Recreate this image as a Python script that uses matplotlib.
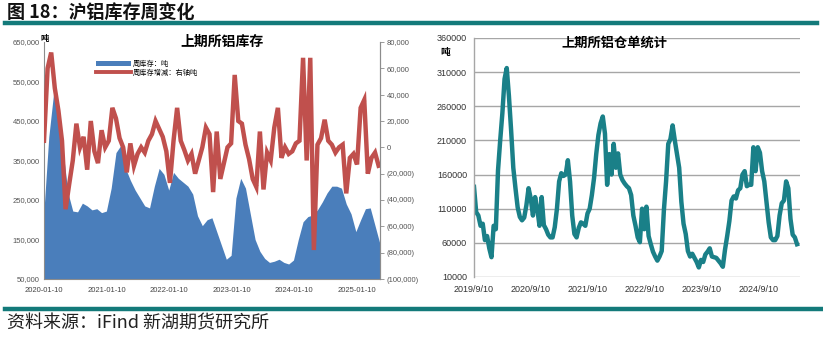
import matplotlib
matplotlib.use('Agg')
import matplotlib.pyplot as plt
import pandas as pd
from matplotlib.patches import Patch
from matplotlib.lines import Line2D

plt.rcParams['font.family'] = ['Noto Sans CJK SC', 'DejaVu Sans']

# ---------------- data ----------------
# SHFE aluminium weekly inventory (tons), sampled every 4 weeks from 2020-01-10
inv_values = [225000, 410000, 520000, 480000, 370000, 268000, 222000, 220000, 242000, 235000,
              225000, 228000, 218000, 222000, 280000, 370000, 388000, 330000, 300000, 275000,
              255000, 235000, 230000, 285000, 330000, 315000, 275000, 320000, 305000, 295000,
              285000, 265000, 210000, 185000, 200000, 205000, 170000, 135000, 100000, 110000,
              255000, 305000, 280000, 215000, 150000, 120000, 102000, 92000, 95000, 100000,
              92000, 88000, 98000, 150000, 195000, 208000, 212000, 225000, 245000, 268000,
              285000, 285000, 280000, 240000, 215000, 170000, 200000, 228000, 230000, 185000,
              140000]
# weekly inventory change (tons, right axis), sampled every 3 weeks from 2020-01-10
chg_values = [5000, 60000, 72000, 45000, 28000, 5000, -47000, -28000, -10000, 18000,
              0, 8000, -17000, 20000, -3000, -12000, 13000, 0, 5000, 30000,
              22000, 7000, 0, -19000, 3000, -14000, -5000, 0, -4000, 5000,
              10000, 20000, 14000, 8000, -3000, -27000, 5000, 30000, 5000, -2000,
              -10000, -5000, -20000, -10000, 0, 15000, 10000, -34000, 12000, -24000,
              -12000, 0, 3000, 55000, 20000, 18000, 2000, -9000, -24000, -30000,
              12000, -32000, -4000, -10000, 15000, 30000, -8000, 0, -5000, -3000,
              3000, 5000, 68000, -10000, 68000, -78000, 2000, 7000, 21000, 5000,
              2000, -4000, 0, 2000, -35000, -8000, -5000, -13000, 30000, 36000,
              -20000, -8000, -4000, -14000]
# SHFE aluminium warrants (tons), sampled every 2 weeks from 2019-09-10
wr_values = [142000, 105000, 100000, 85000, 88000, 64000, 70000, 52000, 39000, 85000,
             80000, 166000, 210000, 250000, 300000, 316000, 275000, 225000, 170000, 140000,
             112000, 98000, 93000, 97000, 115000, 140000, 125000, 100000, 127000, 110000,
             85000, 127000, 86000, 80000, 72000, 68000, 68000, 83000, 110000, 150000,
             162000, 158000, 160000, 181000, 150000, 100000, 73000, 68000, 82000, 90000,
             88000, 85000, 103000, 110000, 130000, 155000, 190000, 218000, 235000, 245000,
             220000, 145000, 190000, 160000, 205000, 170000, 191000, 160000, 152000, 147000,
             143000, 140000, 130000, 100000, 85000, 68000, 61000, 110000, 80000, 113000,
             70000, 58000, 47000, 40000, 34000, 40000, 48000, 108000, 150000, 205000,
             212000, 232000, 210000, 190000, 170000, 120000, 88000, 73000, 48000, 40000,
             44000, 38000, 32000, 24000, 35000, 32000, 43000, 47000, 52000, 40000,
             39000, 38000, 34000, 30000, 25000, 50000, 70000, 92000, 122000, 128000,
             125000, 137000, 140000, 160000, 165000, 143000, 145000, 145000, 200000, 165000,
             200000, 192000, 165000, 150000, 120000, 90000, 68000, 64000, 64000, 70000,
             100000, 118000, 122000, 150000, 140000, 95000, 72000, 68000, 58000]

left_yticks = [50000, 150000, 250000, 350000, 450000, 550000, 650000]
right_yticks = [-100000, -80000, -60000, -40000, -20000, 0, 20000, 40000, 60000, 80000]
left_xticks = ['2020-01-10', '2021-01-10', '2022-01-10', '2023-01-10', '2024-01-10', '2025-01-10']
wr_yticks = [10000, 60000, 110000, 160000, 210000, 260000, 310000, 360000]
wr_xticks = ['2019-09-10', '2020-09-10', '2021-09-10', '2022-09-10', '2023-09-10', '2024-09-10']

inv_dates = pd.date_range('2020-01-10', periods=len(inv_values), freq='28D')
chg_dates = pd.date_range('2020-01-10', periods=len(chg_values), freq='21D')
wr_dates = pd.date_range('2019-09-10', periods=len(wr_values), freq='14D')

BLUE = '#4a7ebb'
RED = '#c0504d'
TEAL = '#1a8088'
BAR = '#137a7a'
NUM = ['Liberation Sans', 'DejaVu Sans']

W, H = 823, 338
fig = plt.figure(figsize=(W / 100, H / 100), dpi=100)

def fx(px):
    return px / W

def fy(py):
    return 1 - py / H

# header
fig.text(fx(7), fy(12), '图 18：沪铝库存周变化', fontsize=13, fontweight='bold',
         va='center', ha='left', color='#111111')
fig.add_artist(Line2D([fx(5), fx(817)], [fy(22.5), fy(22.5)], color=BAR, lw=3.2))
fig.add_artist(Line2D([fx(5), fx(823)], [fy(309), fy(309)], color=BAR, lw=3.2))
fig.text(fx(7), fy(323), '资料来源：iFind 新湖期货研究所', fontsize=13,
         va='center', ha='left', color='#222222')

# ---------------- left chart ----------------
ax = fig.add_axes([fx(44), fy(279), fx(380) - fx(44), fy(42) - fy(279)])
ax.fill_between(inv_dates, inv_values, 50000, color=BLUE, lw=0)
ax.set_ylim(50000, 650000)
ax.set_xlim(pd.Timestamp('2020-01-10'), pd.Timestamp('2025-05-24'))
ax.set_yticks(left_yticks)
ax.set_yticklabels([f'{v:,}' for v in left_yticks], fontsize=5.5, color='#555555', family=NUM)
ax.set_xticks(pd.to_datetime(left_xticks))
ax.set_xticklabels(left_xticks, fontsize=5.5, color='#444444', family=NUM)
ax.tick_params(axis='x', length=0, pad=6)
ax.tick_params(axis='y', length=0, pad=3)
ax.spines['top'].set_visible(False)
for s in ['left', 'bottom', 'right']:
    ax.spines[s].set_color('#8c8c8c')
    ax.spines[s].set_linewidth(0.8)

ax2 = ax.twinx()
ax2.plot(chg_dates, chg_values, color=RED, lw=3.2, solid_joinstyle='miter')
ax2.set_ylim(-100000, 80000)
ax2.set_yticks(right_yticks)
ax2.set_yticklabels([f'{v:,}' if v >= 0 else f'({-v:,})' for v in right_yticks],
                    fontsize=5.5, color='#555555', family=NUM)
ax2.tick_params(axis='y', length=3, width=0.6, color='#8c8c8c', pad=2)
ax2.spines['top'].set_visible(False)
ax2.spines['right'].set_color('#8c8c8c')
ax2.spines['right'].set_linewidth(0.8)
ax2.spines['left'].set_visible(False)
ax2.spines['bottom'].set_visible(False)

fig.text(fx(45), fy(39), '吨', fontsize=6, fontweight='bold', ha='center', va='center')
fig.text(fx(222), fy(42), '上期所铝库存', fontsize=10, fontweight='bold', ha='center', va='center')

handles = [Patch(facecolor=BLUE, edgecolor='none'), Line2D([0], [0], color=RED, lw=2.8)]
fig.legend(handles, ['周库存：吨', '周库存增减：右轴吨'], loc='upper left',
           bbox_to_anchor=(fx(96), fy(60)), frameon=False, fontsize=5.2,
           handlelength=4.8, handleheight=0.7, labelspacing=0.1, borderpad=0,
           handletextpad=0.3, borderaxespad=0)

# ---------------- right chart ----------------
bx = fig.add_axes([fx(474), fy(277), fx(800) - fx(474), fy(38) - fy(277)])
bx.plot(wr_dates, wr_values, color=TEAL, lw=3.2)
bx.set_ylim(10000, 360000)
bx.set_xlim(pd.Timestamp('2019-09-10'), pd.Timestamp('2025-06-01'))
bx.set_yticks(wr_yticks)
bx.set_yticklabels([str(v) for v in wr_yticks], fontsize=6.5, color='#333333', family=NUM)
bx.set_xticks(pd.to_datetime(wr_xticks))
bx.set_xticklabels([f'{d.year}/{d.month}/{d.day}' for d in pd.to_datetime(wr_xticks)],
                   fontsize=6.5, color='#333333', family=NUM)
bx.tick_params(axis='both', length=0)
bx.tick_params(axis='x', pad=6)
bx.tick_params(axis='y', pad=5)
bx.grid(axis='y', color='#a6a6a6', lw=1)
bx.set_axisbelow(True)
for s in ['top', 'right', 'bottom']:
    bx.spines[s].set_visible(False)
bx.spines['left'].set_color('#a6a6a6')
bx.spines['left'].set_linewidth(1)

fig.text(fx(445), fy(52), '吨', fontsize=7, fontweight='bold', ha='center', va='center')
fig.text(fx(614), fy(43), '上期所铝仓单统计', fontsize=9.5, fontweight='bold', ha='center', va='center')

fig.savefig('out.png', dpi=100)
